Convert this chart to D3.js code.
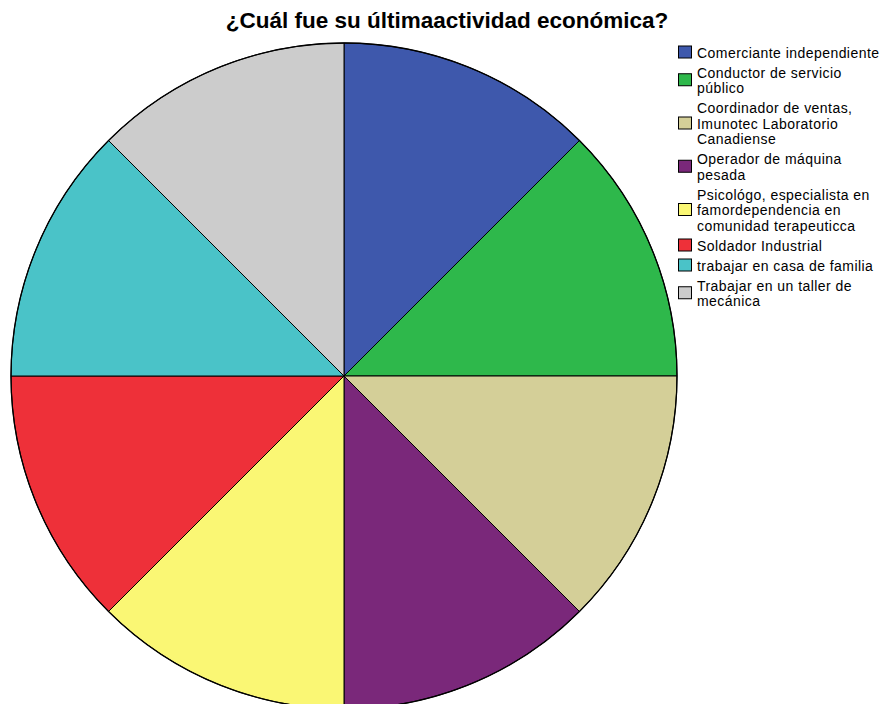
<!DOCTYPE html>
<html><head><meta charset="utf-8">
<script src="https://cdn.jsdelivr.net/npm/d3@7"></script>
<style>body{margin:0;background:#fff}svg{display:block}</style>
</head><body>
<svg id="c" width="889" height="704"></svg>
<script>
const title = "¿Cuál fue su últimaactividad económica?";
const categories = [
  "Comerciante independiente",
  "Conductor de servicio público",
  "Coordinador de ventas, Imunotec Laboratorio Canadiense",
  "Operador de máquina pesada",
  "Psicológo, especialista en famordependencia en comunidad terapeuticca",
  "Soldador Industrial",
  "trabajar en casa de familia",
  "Trabajar en un taller de mecánica"
];
const legendLines = [
  ["Comerciante independiente"],
  ["Conductor de servicio", "público"],
  ["Coordinador de ventas,", "Imunotec Laboratorio", "Canadiense"],
  ["Operador de máquina", "pesada"],
  ["Psicológo, especialista en", "famordependencia en", "comunidad terapeuticca"],
  ["Soldador Industrial"],
  ["trabajar en casa de familia"],
  ["Trabajar en un taller de", "mecánica"]
];
const values = [1, 1, 1, 1, 1, 1, 1, 1];
const colors = ["#3E58AC", "#2EB84B", "#D4CF98", "#7A287A", "#FAF774", "#EE3039", "#4AC3C8", "#CCCCCC"];

const svg = d3.select("#c");
const cx = 344, cy = 376, R = 333;

svg.append("text").attr("x", 447).attr("y", 28).attr("text-anchor", "middle")
  .attr("font-family", "Liberation Sans, Arial, sans-serif").attr("font-weight", "bold")
  .attr("font-size", 22.5).attr("fill", "#000").text(title);

const pie = d3.pie().sort(null).value(d => d)(values);
const arc = d3.arc().innerRadius(0).outerRadius(R);
const g = svg.append("g").attr("transform", `translate(${cx},${cy})`);
g.selectAll("path").data(pie).join("path")
  .attr("d", arc).attr("fill", (d, i) => colors[i])
  .attr("stroke", "#000").attr("stroke-width", 1).attr("stroke-linejoin", "round");
g.append("circle").attr("r", R).attr("fill", "none").attr("stroke", "#000").attr("stroke-width", 1.3);

const lg = svg.append("g").attr("font-family", "Liberation Sans, Arial, sans-serif")
  .attr("font-size", 14).attr("letter-spacing", 0.45);
const lineH = 15.5, gap = 4.5;
let b = 57.5;
legendLines.forEach((lines, i) => {
  const midY = b - 5 + (lines.length - 1) * lineH / 2;
  lg.append("rect").attr("x", 678.5).attr("y", midY - 6.5).attr("width", 13).attr("height", 12)
    .attr("fill", colors[i]).attr("stroke", "#000").attr("stroke-width", 1);
  lines.forEach((t, j) => {
    lg.append("text").attr("x", 697).attr("y", b + j * lineH).attr("fill", "#000").text(t);
  });
  b += lines.length * lineH + gap;
});
</script>
</body></html>
